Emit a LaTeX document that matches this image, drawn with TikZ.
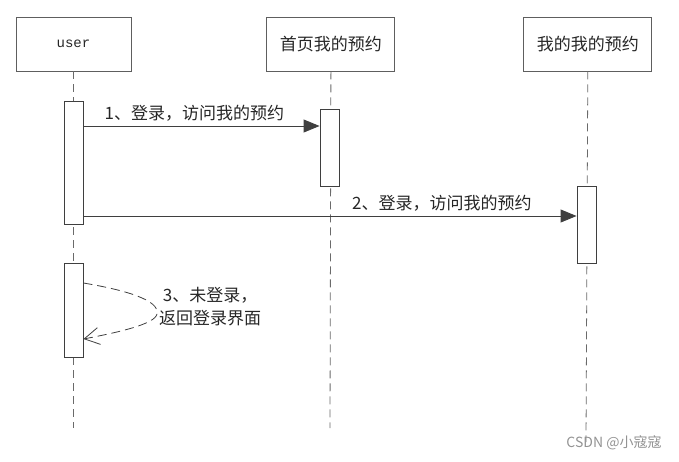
\documentclass[tikz,border=0pt]{standalone}
\usepackage{fontspec}
\setmonofont{Liberation Mono}
\newfontfamily\cjk{Noto Sans CJK SC}
\usetikzlibrary{positioning,arrows.meta}
\definecolor{boxgray}{HTML}{5E5E5E}
\definecolor{linegray}{HTML}{3F3F3F}
\definecolor{lifegray}{HTML}{6A6A6A}

\begin{document}
\begin{tikzpicture}[x=1pt,y=-1pt,
  every node/.style={font=\cjk\fontsize{17}{23}\selectfont, text=black!85},
  head/.style={rectangle, draw=boxgray, line width=0.9pt,
               minimum width=128pt, minimum height=54pt, inner sep=0pt},
  actbox/.style={rectangle, draw=linegray, line width=0.9pt, fill=white,
                 minimum width=19pt, inner sep=0pt, anchor=north},
  lifeline/.style={draw=lifegray, line width=0.8pt, dash pattern=on 8pt off 5pt},
  msg/.style={-{Triangle[length=16pt,width=13pt]}, draw=linegray, fill=linegray, line width=0.9pt},
  retmsg/.style={-{Straight Barb[length=15pt,width=17pt]}, draw=linegray,
                 line width=0.8pt, dash pattern=on 9pt off 5pt}
]
\useasboundingbox (0,0) rectangle (679,461);

% participants
\node[head, minimum width=115pt] (user) at (73.5,44) {\ttfamily\fontsize{14}{16}\selectfont user};
\node[head, right=135pt of user] (home) {首页我的预约};
\node[head, right=128pt of home] (mine) {我的我的预约};

% lifelines
\coordinate (userEnd) at (73,428);
\coordinate (homeEnd) at (330,428);
\coordinate (mineEnd) at (586,442);
\draw[lifeline] (user.south -| userEnd) -- (userEnd);
\draw[lifeline] (home.south) -- (homeEnd);
\draw[lifeline] (mine.south) -- (mineEnd);

% activations
\node[actbox, minimum height=123pt] (ua1) at (73.5,101) {};
\node[actbox, minimum height=77pt]  (ha1) at (329.5,109) {};
\node[actbox, minimum height=77pt]  (ma1) at (586.5,186) {};
\node[actbox, minimum height=94pt]  (ua2) at (73.5,263) {};

% message levels
\coordinate (m1) at (0,126);
\coordinate (m2) at (0,216);
\coordinate (r1) at (0,283);
\coordinate (r2) at (0,339);

\draw[msg] (ua1.east |- m1) -- node[pos=0.47, above=3pt, inner sep=1pt] (lbl1) {1、登录，访问我的预约} (ha1.west |- m1);
\draw[msg] (ua1.east |- m2) -- node[pos=0.727, above=3pt, inner sep=1pt] (lbl2) {2、登录，访问我的预约} (ma1.west |- m2);

\draw[retmsg] (ua2.east |- r1) .. controls (125,290) and (160,300) .. (157,314)
                               .. controls (155,324) and (120,332) .. (ua2.east |- r2);
\node[anchor=west, align=center, inner sep=1pt] (lbl3) at (158,307) {3、未登录，\\返回登录界面};

\node[text=gray!85, font=\cjk\fontsize{14}{16}\selectfont] (mark) at (614,443) {CSDN @小寇寇};
\end{tikzpicture}
\end{document}
